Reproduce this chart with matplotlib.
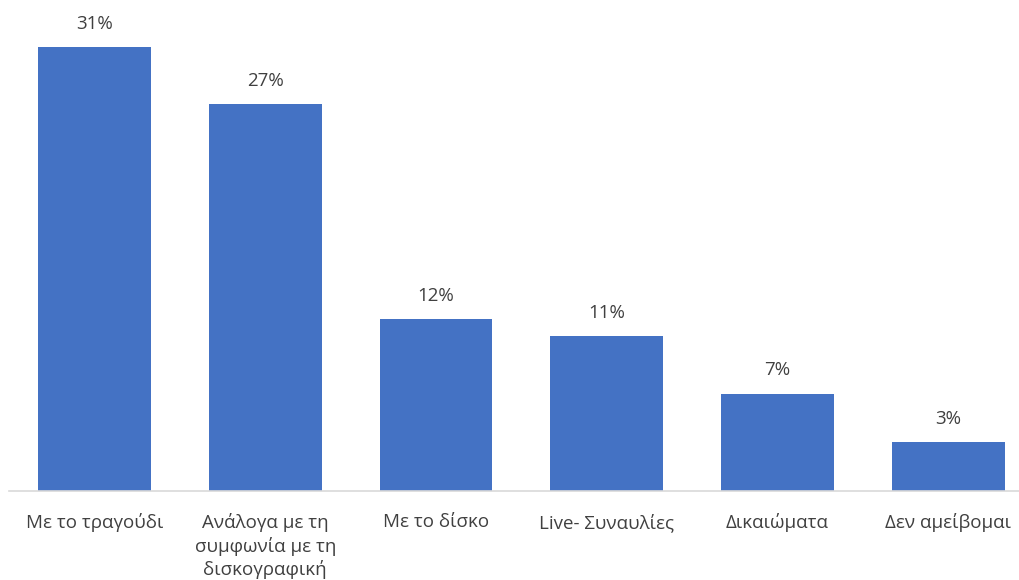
import matplotlib
matplotlib.use("Agg")
from matplotlib import pyplot as plt

plt.rcParams['font.family'] = ['Open Sans', 'DejaVu Sans']

categories = ["Με το τραγούδι", "Ανάλογα με τη\nσυμφωνία με τη\nδισκογραφική", "Με το δίσκο",
              "Live- Συναυλίες", "Δικαιώματα", "Δεν αμείβομαι"]
values = [31.0, 27.0, 12.0, 10.8, 6.8, 3.4]
labels = ["31%", "27%", "12%", "11%", "7%", "3%"]

fig = plt.figure(figsize=(10.2, 5.8), dpi=100)
ax = fig.add_axes([9 / 1020, 89 / 580, 1011 / 1020, 491 / 580])

x = list(range(len(categories)))
bars = ax.bar(x, values, width=0.66, color="#4472C4")
for b, lab in zip(bars, labels):
    ax.annotate(lab, (b.get_x() + b.get_width() / 2, b.get_height()), xytext=(0, 10.5),
                textcoords="offset points", ha="center", va="bottom", fontsize=13.5, color="#404040")

ax.set_xlim(-0.5, 1011 / 170.8 - 0.5)
ax.set_ylim(0, 34.3)
ax.set_xticks(x)
ax.set_xticklabels(categories, fontsize=13.5, color="#404040", linespacing=1.3)
ax.tick_params(axis="x", length=0, pad=16)
ax.set_yticks([])
for s in ["top", "right", "left"]:
    ax.spines[s].set_visible(False)
ax.spines["bottom"].set_color("#D9D9D9")
ax.spines["bottom"].set_linewidth(1.2)

fig.savefig("out.png", dpi=100)
